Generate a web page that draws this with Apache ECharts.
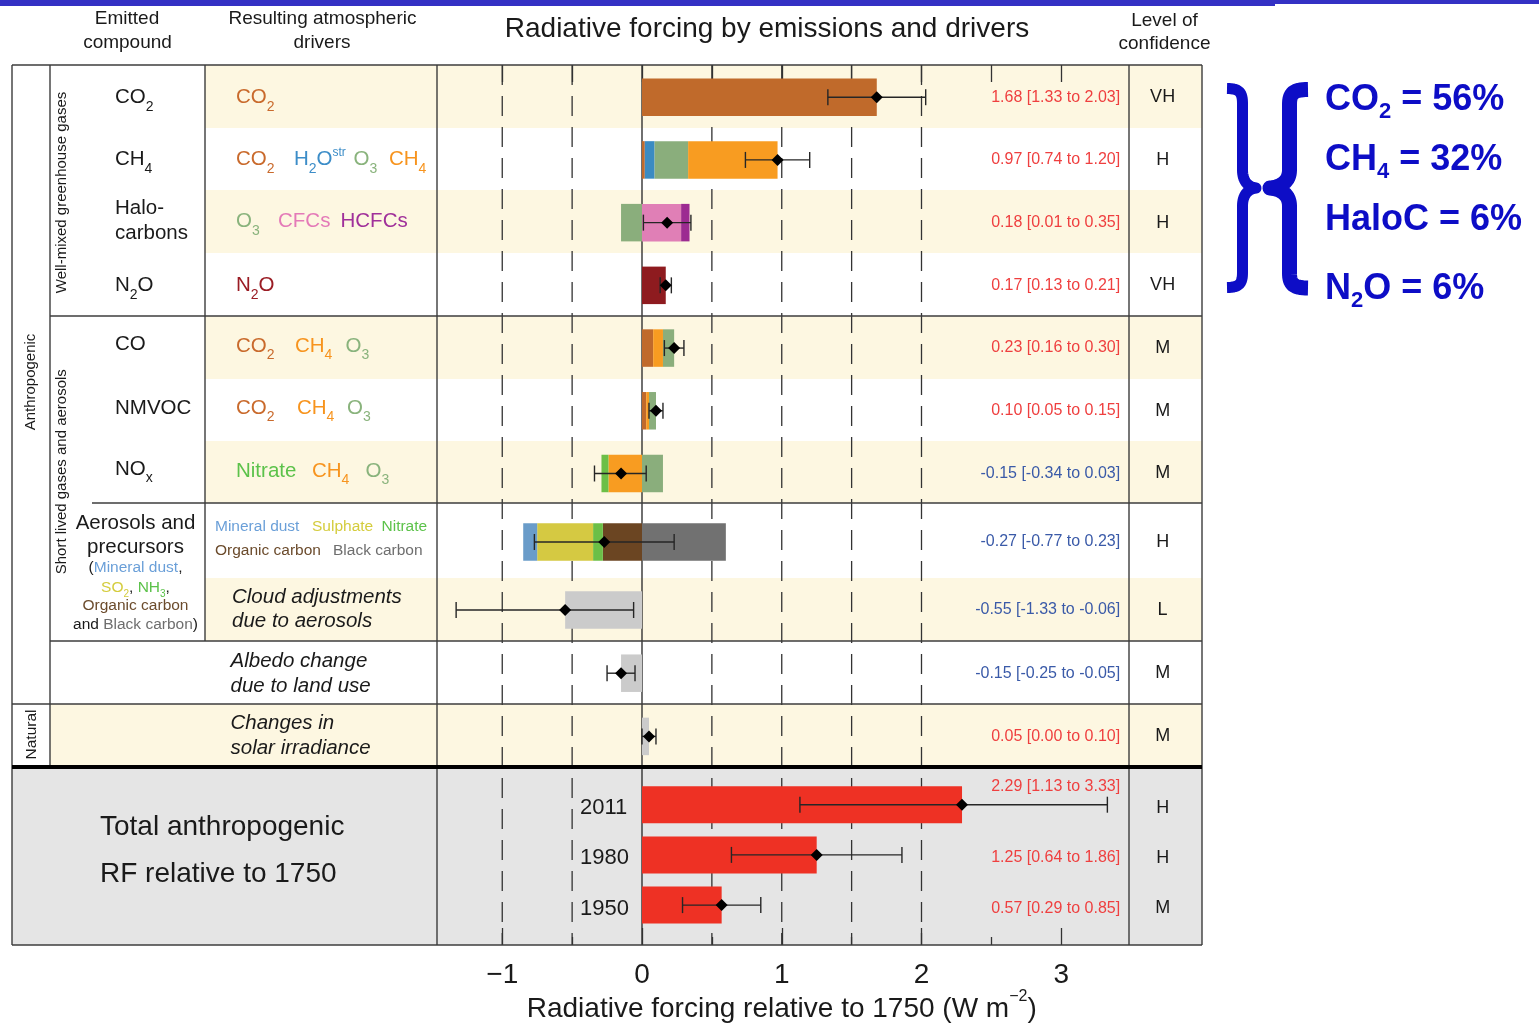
<!DOCTYPE html>
<html><head><meta charset="utf-8">
<script src="https://cdn.jsdelivr.net/npm/echarts@6/dist/echarts.min.js"></script>
<style>html,body{margin:0;padding:0;background:#fff}#c{width:1539px;height:1024px}</style>
</head><body><div id="c"></div>
<script>
// ---------------- DATA ----------------
const ghgRows    = ['CO2', 'CH4', 'Halocarbons', 'N2O', 'CO', 'NMVOC', 'NOx'];
const ghgCO2     = [1.68, 0.02, null, null, 0.08, 0.03, null];
const ghgH2Ostr  = [null, 0.07, null, null, null, null, null];
const ghgO3      = [null, 0.24, -0.15, null, null, null, 0.15];
const ghgCH4     = [null, 0.64, null, null, 0.07, 0.02, -0.24];
const ghgO3b     = [null, null, null, null, 0.08, 0.05, null];
const ghgCFCs    = [null, null, 0.28, null, null, null, null];
const ghgHCFCs   = [null, null, 0.06, null, null, null, null];
const ghgN2O     = [null, null, null, 0.17, null, null, null];
const ghgNitrate = [null, null, null, null, null, null, -0.05];
const ghgBest    = [1.68, 0.97, 0.18, 0.17, 0.23, 0.10, -0.15];
const ghgLow     = [1.33, 0.74, 0.01, 0.13, 0.16, 0.05, -0.34];
const ghgHigh    = [2.03, 1.20, 0.35, 0.21, 0.30, 0.15, 0.03];
const ghgConf    = ['VH', 'H', 'H', 'VH', 'M', 'M', 'M'];

const aerRows     = ['Aerosols and precursors'];
const aerOrganic  = [-0.28];
const aerNitrate  = [-0.07];
const aerSulphate = [-0.40];
const aerDust     = [-0.10];
const aerBlack    = [0.60];
const aerBest = [-0.27], aerLow = [-0.77], aerHigh = [0.23], aerConf = ['H'];

const othRows  = ['Cloud adjustments', 'Albedo change', 'Solar irradiance'];
const othValue = [-0.55, -0.15, 0.05];
const othLow   = [-1.33, -0.25, 0.00];
const othHigh  = [-0.06, -0.05, 0.10];
const othConf  = ['L', 'M', 'M'];

const totYears = ['2011', '1980', '1950'];
const totValue = [2.29, 1.25, 0.57];
const totLow   = [1.13, 0.64, 0.29];
const totHigh  = [3.33, 1.86, 0.85];
const totConf  = ['H', 'H', 'M'];

const xTickMajor = [-1, 0, 1, 2, 3];
const xTickMinor = [-0.5, 0.5, 1.5, 2.5];
const xTickTop   = [-1, -0.5, 0, 0.5, 1, 1.5, 2, 2.5, 3];
const refDashed  = [-1, -0.5, 0.5, 1, 1.5, 2];
const refSolid   = [0];

const shareNames = [['CO', '2', ''], ['CH', '4', ''], ['HaloC', '', ''], ['N', '2', 'O']];
const shareValues = ['56%', '32%', '6%', '6%'];

// ---------------- STYLE ----------------
const FF = "'Liberation Sans', Arial, Helvetica, sans-serif";
const INK = '#1a1a1a';
const RED = '#ef3f3f', BLUE = '#3a5aa8';
const cCO2 = '#c06a2b', cH2O = '#3b8bc2', cO3 = '#8aae7c', cCH4 = '#f89c21',
      cCFC = '#e07fb6', cHCFC = '#9c2b91', cN2O = '#8e1b1f', cNit = '#6cbf47',
      cDust = '#6a9cc9', cSul = '#d5c942', cOC = '#6b4522', cBC = '#717171',
      cGrey = '#cbcbcb', cTot = '#ee3124';
const tCO2 = '#c96a2c', tH2O = '#3c8dc8', tO3 = '#89b37c', tCH4 = '#f7941e',
      tCFC = '#e47ab8', tHCFC = '#a0309a', tN2O = '#9a1c24', tNit = '#5cc24a',
      tDust = '#6a9fd8', tSul = '#d4cc3c', tOC = '#6b4b2c', tBC = '#6e6e6e';
const ANN = '#0d0dc6';

const X0 = 642, PX = 139.75;
const GL = X0 - 1.5 * PX;
const GR = 1539 - (X0 + 3.5 * PX);

// ---------------- helpers ----------------
function RT(x, y, parts, size, o = {}) {
  const subSize = o.sub || Math.round(size * 0.7), subOff = (o.subOff != null) ? o.subOff : size * 0.47;
  const Lh = subSize + 2 * subOff;
  const supSize = o.sup || Math.round(size * 0.6), supOff = (o.supOff != null) ? o.supOff : size * 0.3;
  const supPad = Math.max(0, Lh / 2 - supOff - supSize * 0.58);
  const rich = {}; let text = '';
  parts.forEach((p, i) => {
    const str = p[0], color = p[1], kind = p[2] || 'b';
    const key = 't' + i;
    const base = { fill: color, color: color, fontFamily: FF, fontWeight: o.weight || 'normal', fontStyle: o.italic ? 'italic' : 'normal' };
    if (kind === 's') rich[key] = Object.assign({}, base, { fontSize: subSize, lineHeight: subSize, verticalAlign: 'bottom' });
    else if (kind === 'p') rich[key] = Object.assign({}, base, { fontSize: supSize, verticalAlign: 'top', padding: [supPad, 0, 0, 0] });
    else rich[key] = Object.assign({}, base, { fontSize: size, lineHeight: Lh, verticalAlign: 'middle' });
    text += '{' + key + '|' + str + '}';
  });
  return { type: 'text', x: x, y: y, z: 20, silent: true, rotation: o.rot || 0,
    style: { text: text, rich: rich, fill: parts[0][1], fontSize: size, fontFamily: FF,
             fontWeight: o.weight || 'normal', fontStyle: o.italic ? 'italic' : 'normal',
             align: o.align || 'left', verticalAlign: 'middle' } };
}
function chem(s, color) {
  const out = []; const re = /_(\w)|\^(\w+)|([^_^]+)/g; let m;
  while ((m = re.exec(s))) {
    if (m[1]) out.push([m[1], color, 's']);
    else if (m[2]) out.push([m[2], color, 'p']);
    else out.push([m[3], color, 'b']);
  }
  return out;
}
function rect(x, y, w, h, fill) { return { type: 'rect', z: 0, silent: true, shape: { x, y, width: w, height: h }, style: { fill } }; }
function ln(x1, y1, x2, y2, color, w) { return { type: 'line', z: 15, silent: true, shape: { x1, y1, x2, y2 }, style: { stroke: color, lineWidth: w } }; }
function sampleCubics(segs) {
  const pts = [];
  segs.forEach(s => {
    const [p0, c1, c2, p3] = s;
    for (let k = 0; k <= 16; k++) {
      const t = k / 16, u = 1 - t;
      pts.push([
        u*u*u*p0[0] + 3*u*u*t*c1[0] + 3*u*t*t*c2[0] + t*t*t*p3[0],
        u*u*u*p0[1] + 3*u*u*t*c1[1] + 3*u*t*t*c2[1] + t*t*t*p3[1]
      ]);
    }
  });
  return pts;
}
function brace(xEnd, xStem, xTip, yTop, yMid, yBot, w) {
  const d = xStem - xEnd;
  const t = xTip - xStem;
  const segs = [
    [[xEnd, yTop], [xEnd + d * 0.8, yTop], [xStem, yTop + 4], [xStem, yTop + 15]],
    [[xStem, yTop + 15], [xStem, yTop + 40], [xStem, yMid - 40], [xStem, yMid - 18]],
    [[xStem, yMid - 18], [xStem, yMid - 7], [xStem + t * 0.4, yMid - 1], [xTip, yMid]],
    [[xTip, yMid], [xStem + t * 0.4, yMid + 1], [xStem, yMid + 7], [xStem, yMid + 18]],
    [[xStem, yMid + 18], [xStem, yMid + 40], [xStem, yBot - 40], [xStem, yBot - 15]],
    [[xStem, yBot - 15], [xStem, yBot - 4], [xEnd + d * 0.8, yBot], [xEnd, yBot]]
  ];
  return { type: 'polyline', z: 20, silent: true, shape: { points: sampleCubics(segs) },
    style: { stroke: ANN, lineWidth: w, fill: null, lineJoin: 'round', lineCap: 'butt' } };
}

// ---------------- graphic ----------------
const G = [];
G.push(rect(0, 0, 1275, 6, '#3431c4'), rect(1275, 0, 264, 4, '#3431c4'));
const YEL = '#fdf7e1';
[[65, 128], [190, 253], [316, 379], [441, 503], [578, 641]].forEach(([a, b]) => G.push(rect(205, a, 997, b - a, YEL)));
G.push(rect(50, 704, 1152, 63, YEL));
G.push(rect(12, 767, 1190, 178, '#e5e5e5'));
const LC = '#3c3c3c', LW = 1.4;
[[12, 65, 12, 945], [50, 65, 50, 767], [205, 65, 205, 641], [437, 65, 437, 945], [1129, 65, 1129, 945], [1202, 65, 1202, 945],
 [12, 65, 1202, 65], [50, 316, 1202, 316], [92, 503, 1202, 503], [50, 641, 1202, 641], [12, 704, 1202, 704], [12, 945, 1202, 945]]
  .forEach(a => G.push(ln(a[0], a[1], a[2], a[3], LC, LW)));
G.push(ln(12, 767, 1202, 767, '#000', 4));

G.push(RT(127, 18.7, [['Emitted', INK]], 19, { align: 'center' }));
G.push(RT(127.5, 42.6, [['compound', INK]], 19, { align: 'center' }));
G.push(RT(322.5, 18.7, [['Resulting atmospheric', INK]], 19, { align: 'center' }));
G.push(RT(322, 42.6, [['drivers', INK]], 19, { align: 'center' }));
G.push(RT(767, 29, [['Radiative forcing by emissions and drivers', INK]], 28, { align: 'center' }));
G.push(RT(1164.5, 20.5, [['Level of', INK]], 19, { align: 'center' }));
G.push(RT(1164.5, 43.5, [['confidence', INK]], 19, { align: 'center' }));

const R90 = Math.PI / 2;
G.push(RT(31, 382, [['Anthropogenic', INK]], 15, { align: 'center', rot: R90 }));
G.push(RT(62, 192.5, [['Well-mixed greenhouse gases', INK]], 15, { align: 'center', rot: R90 }));
G.push(RT(62, 471.7, [['Short lived gases and aerosols', INK]], 15, { align: 'center', rot: R90 }));
G.push(RT(32, 734.5, [['Natural', INK]], 15.5, { align: 'center', rot: R90 }));

const CS = 20.5;
G.push(RT(115, 97.5, chem('CO_2', INK), CS));
G.push(RT(115, 159.5, chem('CH_4', INK), CS));
G.push(RT(115, 208, [['Halo-', INK]], CS));
G.push(RT(115, 233, [['carbons', INK]], CS));
G.push(RT(115, 285.5, chem('N_2O', INK), CS));
G.push(RT(115, 344.5, [['CO', INK]], CS));
G.push(RT(115, 408, [['NMVOC', INK]], CS));
G.push(RT(115, 469, chem('NO_x', INK), CS));
G.push(RT(135.5, 523.5, [['Aerosols and', INK]], CS, { align: 'center' }));
G.push(RT(135.5, 547.5, [['precursors', INK]], CS, { align: 'center' }));
const SS = 15.5;
G.push(RT(135.5, 568, [['(', INK], ['Mineral dust', tDust], [',', INK]], SS, { align: 'center' }));
G.push(RT(135.5, 588, [['SO', tSul], ['2', tSul, 's'], [', ', INK], ['NH', tNit], ['3', tNit, 's'], [',', INK]], SS, { align: 'center', sub: 10, subOff: 6 }));
G.push(RT(135.5, 606, [['Organic carbon', tOC]], SS, { align: 'center' }));
G.push(RT(135.5, 624.5, [['and ', INK], ['Black carbon', tBC], [')', INK]], SS, { align: 'center' }));

G.push(RT(236, 97.5, chem('CO_2', tCO2), CS));
G.push(RT(236, 159.5, chem('CO_2', tCO2), CS));
G.push(RT(294, 159.5, chem('H_2O^str', tH2O), CS, { sup: 12, supOff: 6 }));
G.push(RT(353.5, 159.5, chem('O_3', tO3), CS));
G.push(RT(389, 159.5, chem('CH_4', tCH4), CS));
G.push(RT(236, 221.5, chem('O_3', tO3), CS));
G.push(RT(278, 221.5, [['CFCs', tCFC]], CS));
G.push(RT(340.5, 221.5, [['HCFCs', tHCFC]], CS));
G.push(RT(236, 285.5, chem('N_2O', tN2O), CS));
G.push(RT(236, 346, chem('CO_2', tCO2), CS));
G.push(RT(295, 346, chem('CH_4', tCH4), CS));
G.push(RT(345.5, 346, chem('O_3', tO3), CS));
G.push(RT(236, 408, chem('CO_2', tCO2), CS));
G.push(RT(297, 408, chem('CH_4', tCH4), CS));
G.push(RT(347, 408, chem('O_3', tO3), CS));
G.push(RT(236, 471, [['Nitrate', tNit]], CS));
G.push(RT(312, 471, chem('CH_4', tCH4), CS));
G.push(RT(365.5, 471, chem('O_3', tO3), CS));
G.push(RT(215, 527, [['Mineral dust', tDust]], SS));
G.push(RT(312, 527, [['Sulphate', tSul]], SS));
G.push(RT(381.5, 527, [['Nitrate', tNit]], SS));
G.push(RT(215, 551, [['Organic carbon', tOC]], SS));
G.push(RT(333, 551, [['Black carbon', tBC]], SS));
G.push(RT(232, 597, [['Cloud adjustments', INK]], CS, { italic: true }));
G.push(RT(232, 621, [['due to aerosols', INK]], CS, { italic: true }));
G.push(RT(230.5, 661, [['Albedo change', INK]], CS, { italic: true }));
G.push(RT(230.5, 686, [['due to land use', INK]], CS, { italic: true }));
G.push(RT(230.5, 723.5, [['Changes in', INK]], CS, { italic: true }));
G.push(RT(230.5, 748, [['solar irradiance', INK]], CS, { italic: true }));
G.push(RT(100, 827, [['Total anthropogenic', INK]], 28));
G.push(RT(100, 874, [['RF relative to 1750', INK]], 28));

const annY = [100, 160, 220, 289];
shareNames.forEach((n, i) => {
  const parts = [[n[0], ANN]];
  if (n[1]) parts.push([n[1], ANN, 's']);
  parts.push([n[2] + ' = ' + shareValues[i], ANN]);
  G.push(RT(1325, annY[i], parts, 36, { weight: 'bold', sub: 22, subOff: 12 }));
});
G.push(brace(1227, 1242.5, 1256, 88.5, 188, 287.5, 11));
G.push(brace(1308, 1289.5, 1270, 89.5, 188, 288, 15));

// ---------------- axes ----------------
const gridDefs = [
  { left: GL, right: GR, top: 65, height: 880 },
  { left: GL, right: GR, top: 65.85, height: 439 },
  { left: GL, right: GR, top: 503, height: 78 },
  { left: GL, right: GR, top: 578.4, height: 189.6 },
  { left: GL, right: GR, top: 779.6, height: 150.6 }
].map(g => Object.assign(g, { containLabel: false, outerBoundsMode: 'none' }));

const fmtNum = v => (v < 0 ? '−' + Math.abs(v) : String(v));
const xAxes = [
  { type: 'value', gridIndex: 0, position: 'bottom', min: -1.5, max: 3.5, interval: 0.5,
    axisLine: { show: false }, splitLine: { show: false },
    axisTick: { show: true, inside: true, length: 17, customValues: xTickMajor, lineStyle: { color: '#333', width: 1.3 } },
    axisLabel: { show: true, customValues: xTickMajor, margin: 16, fontSize: 28, color: INK, fontFamily: FF,
      formatter: v => (Number.isInteger(v) && v >= -1 && v <= 3) ? fmtNum(v) : '' },
    name: '{n|Radiative forcing relative to 1750 (W m}{sup|−2}{n|)}', nameLocation: 'middle', nameGap: 44,
    nameMoveOverlap: false,
    nameTextStyle: { rich: {
      n: { fontSize: 28, lineHeight: 40, color: INK, fontFamily: FF, verticalAlign: 'middle' },
      sup: { fontSize: 16, lineHeight: 17, color: INK, fontFamily: FF, verticalAlign: 'top' } } } },
  { type: 'value', gridIndex: 0, position: 'bottom', min: -1.5, max: 3.5, interval: 0.5,
    axisLine: { show: false }, splitLine: { show: false }, axisLabel: { show: false },
    axisTick: { show: true, inside: true, length: 8, customValues: xTickMinor, lineStyle: { color: '#333', width: 1.3 } } },
  { type: 'value', gridIndex: 0, position: 'top', min: -1.5, max: 3.5, interval: 0.5,
    axisLine: { show: false }, splitLine: { show: false }, axisLabel: { show: false },
    axisTick: { show: true, inside: true, length: 17, customValues: xTickTop, lineStyle: { color: '#333', width: 1.3 } } },
  { type: 'value', gridIndex: 1, min: -1.5, max: 3.5, show: false, splitLine: { show: false } },
  { type: 'value', gridIndex: 2, min: -1.5, max: 3.5, show: false, splitLine: { show: false } },
  { type: 'value', gridIndex: 3, min: -1.5, max: 3.5, show: false, splitLine: { show: false } },
  { type: 'value', gridIndex: 4, min: -1.5, max: 3.5, show: false, splitLine: { show: false } }
];

function valueLabel(best, lo, hi, mode) {
  return (v, i) => {
    let k = best[i] < 0 ? 'n' : 'p';
    if (mode === 't') k += (i === 0 ? 'u' : 'd');
    return '{' + k + '|' + best[i].toFixed(2) + ' [' + lo[i].toFixed(2) + ' to ' + hi[i].toFixed(2) + ']}';
  };
}
const vBase = { fontSize: 16, fontFamily: FF };
const valRich = {
  p: Object.assign({ color: RED }, vBase),
  n: Object.assign({ color: BLUE }, vBase),
  pu: Object.assign({ color: RED, padding: [0, 0, 36, 0] }, vBase),
  nu: Object.assign({ color: BLUE, padding: [0, 0, 36, 0] }, vBase),
  pd: Object.assign({ color: RED, padding: [6, 0, 0, 0] }, vBase),
  nd: Object.assign({ color: BLUE, padding: [6, 0, 0, 0] }, vBase)
};
const cBase = { fontSize: 18, fontFamily: FF, color: INK };
const confRich = { c: cBase, cd: Object.assign({ padding: [6, 0, 0, 0] }, cBase) };
function rowAxes(gi, cats, best, lo, hi, conf, isTotal) {
  return [
    isTotal
      ? { type: 'category', gridIndex: gi, data: cats, inverse: true, position: 'left',
          axisLine: { show: false, onZero: false }, axisTick: { show: false }, splitLine: { show: false },
          axisLabel: { inside: true, margin: 147.6, interval: 0, formatter: v => '{y|' + v + '}',
            rich: { y: { fontSize: 22, color: INK, fontFamily: FF, padding: [7, 0, 0, 0] } } } }
      : { type: 'category', gridIndex: gi, data: cats, inverse: true, show: false, splitLine: { show: false } },
    { type: 'category', gridIndex: gi, data: cats, inverse: true, position: 'right',
      axisLine: { show: false, onZero: false }, axisTick: { show: false }, splitLine: { show: false },
      axisLabel: { inside: true, margin: 11, interval: 0, formatter: valueLabel(best, lo, hi, isTotal ? 't' : 'n'), rich: valRich } },
    { type: 'category', gridIndex: gi, data: cats, inverse: true, position: 'right',
      axisLine: { show: false, onZero: false }, axisTick: { show: false }, splitLine: { show: false },
      axisLabel: { margin: 31.5, align: 'center', interval: 0,
        formatter: (v, i) => '{' + (isTotal ? 'cd' : 'c') + '|' + conf[i] + '}', rich: confRich } }
  ];
}
const yAxes = [{ type: 'value', gridIndex: 0, min: 0, max: 1, show: false, splitLine: { show: false } }]
  .concat(rowAxes(1, ghgRows, ghgBest, ghgLow, ghgHigh, ghgConf, false))
  .concat(rowAxes(2, aerRows, aerBest, aerLow, aerHigh, aerConf, false))
  .concat(rowAxes(3, othRows, othValue, othLow, othHigh, othConf, false))
  .concat(rowAxes(4, totYears, totValue, totLow, totHigh, totConf, true));

// ---------------- series ----------------
function bar(data, color, xi, yi, stack) {
  return { type: 'bar', data: data, stack: stack, xAxisIndex: xi, yAxisIndex: yi, barWidth: 37.5,
    itemStyle: { color: color, opacity: 1, borderWidth: 0 }, z: 10, zlevel: 1, silent: true };
}
function errors(lo, hi, best, xi, yi) {
  return { type: 'custom', xAxisIndex: xi, yAxisIndex: yi, z: 12, zlevel: 1, silent: true,
    data: best.map((b, i) => [i, lo[i], hi[i], b]),
    encode: { x: [1, 2, 3], y: 0 },
    renderItem: (params, api) => {
      const c = api.value(0);
      const a = api.coord([api.value(1), c]);
      const b = api.coord([api.value(2), c]);
      const m = api.coord([api.value(3), c]);
      const st = { stroke: '#262626', lineWidth: 1.4 };
      const cap = 8, d = 6;
      return { type: 'group', children: [
        { type: 'line', shape: { x1: a[0], y1: a[1], x2: b[0], y2: b[1] }, style: st },
        { type: 'line', shape: { x1: a[0], y1: a[1] - cap, x2: a[0], y2: a[1] + cap }, style: st },
        { type: 'line', shape: { x1: b[0], y1: b[1] - cap, x2: b[0], y2: b[1] + cap }, style: st },
        { type: 'polygon', shape: { points: [[m[0], m[1] - d], [m[0] + d, m[1]], [m[0], m[1] + d], [m[0] - d, m[1]]] }, style: { fill: '#000' } }
      ] };
    } };
}
// reference lines (dashed and the solid zero line) as a custom series under the bars
const refLines = { type: 'custom', xAxisIndex: 0, yAxisIndex: 0, z: 1, zlevel: 0, silent: true,
  data: refDashed.map(v => [v, 1]).concat(refSolid.map(v => [v, 0])),
  encode: { x: 0 },
  renderItem: (params, api) => {
    const v = api.value(0), dashed = api.value(1) === 1;
    const top = api.coord([v, 1]), bot = api.coord([v, 0]);
    return { type: 'line', shape: { x1: top[0], y1: top[1], x2: bot[0], y2: bot[1] },
      style: { stroke: '#333', lineWidth: dashed ? 1.3 : 1.4, lineDash: dashed ? [20, 11] : null } };
  } };
const series = [
  refLines,
  bar(ghgCO2, cCO2, 3, 1, 'g'), bar(ghgH2Ostr, cH2O, 3, 1, 'g'), bar(ghgO3, cO3, 3, 1, 'g'),
  bar(ghgCH4, cCH4, 3, 1, 'g'), bar(ghgO3b, cO3, 3, 1, 'g'), bar(ghgCFCs, cCFC, 3, 1, 'g'),
  bar(ghgHCFCs, cHCFC, 3, 1, 'g'), bar(ghgN2O, cN2O, 3, 1, 'g'), bar(ghgNitrate, cNit, 3, 1, 'g'),
  errors(ghgLow, ghgHigh, ghgBest, 3, 1),
  bar(aerOrganic, cOC, 4, 4, 'a'), bar(aerNitrate, cNit, 4, 4, 'a'), bar(aerSulphate, cSul, 4, 4, 'a'),
  bar(aerDust, cDust, 4, 4, 'a'), bar(aerBlack, cBC, 4, 4, 'a'),
  errors(aerLow, aerHigh, aerBest, 4, 4),
  bar(othValue, cGrey, 5, 7, 'o'),
  errors(othLow, othHigh, othValue, 5, 7),
  Object.assign(bar(totValue, cTot, 6, 10, 't'), { barWidth: 37 }),
  errors(totLow, totHigh, totValue, 6, 10)
];

const chart = echarts.init(document.getElementById('c'), null, { renderer: 'canvas', width: 1539, height: 1024 });
chart.setOption({
  animation: false,
  backgroundColor: '#ffffff',
  textStyle: { fontFamily: FF },
  grid: gridDefs,
  xAxis: xAxes,
  yAxis: yAxes,
  series: series,
  graphic: { elements: G }
});
</script>
</body></html>
